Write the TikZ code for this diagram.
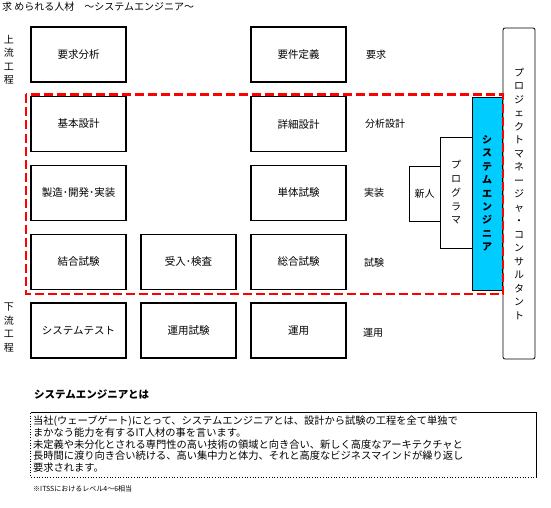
\documentclass[tikz,border=0pt]{standalone}
\usepackage{fontspec}
\newfontfamily\cjk{Noto Sans CJK JP}
\definecolor{secyan}{HTML}{00CCFF}
\begin{document}
\begin{tikzpicture}[x=1pt,y=-1pt,
  every node/.style={font=\cjk\fontsize{10}{12}\selectfont, inner sep=0pt},
  box/.style={draw, line width=1.4pt, minimum width=95pt, minimum height=55pt, font=\cjk\fontsize{10.5}{12}\selectfont},
  vbox/.style={draw, line width=0.8pt},
  vtext/.style={align=center, font=\cjk\fontsize{10}{13.5}\selectfont},
  lbl/.style={anchor=west},
  txt/.style={anchor=west, font=\cjk\fontsize{10.25}{12}\selectfont}]
\useasboundingbox (0,0) rectangle (551,508);

% title
\node[anchor=west] (title) at (2,7) {求 められる人材　～システムエンジニア～};

% left labels
\node[vtext] (joryu) at (9,60) {上\\流\\工\\程};
\node[vtext] (karyu) at (9,327.5) {下\\流\\工\\程};

% process boxes
\node[box] (yokyu) at (78.5,54.5) {要求分析};
\node[box] (kihon) at (78.5,124) {基本設計};
\node[box] (seizo) at (78.5,193) {製造･開発･実装};
\node[box] (ketsugo) at (78.5,262) {結合試験};
\node[box] (systest) at (78.5,330.5) {システムテスト};
\node[box] (ukeire) at (188.5,262) {受入･検査};
\node[box] (unyoshiken) at (188.5,330.5) {運用試験};
\node[box] (yoken) at (298.5,54.5) {要件定義};
\node[box] (shosai) at (298.5,124) {詳細設計};
\node[box] (tantai) at (298.5,193) {単体試験};
\node[box] (sogo) at (298.5,262) {総合試験};
\node[box] (unyo) at (298.5,330.5) {運用};

% right labels
\node[lbl] (l1) at (366,55) {要求};
\node[lbl] (l2) at (365,124) {分析設計};
\node[lbl] (l3) at (364,193) {実装};
\node[lbl] (l4) at (364,263) {試験};
\node[lbl] (l5) at (363,333) {運用};

% role boxes
\node[vbox, rounded corners=2pt, minimum width=32pt, minimum height=331pt] (pm) at (519,193.5) {};
\node[vtext] (pmt) at (519,193.5) {プ\\ロ\\ジ\\ェ\\ク\\ト\\マ\\ネ\\ー\\ジ\\ャ\\・\\コ\\ン\\サ\\ル\\タ\\ン\\ト};
\node[vbox, fill=secyan, minimum width=30pt, minimum height=193pt] (se) at (487,193.5) {};
\node[vtext, font=\cjk\bfseries\fontsize{10}{13.4}\selectfont] (set) at (487,193.5) {シ\\ス\\テ\\ム\\エ\\ン\\ジ\\ニ\\ア};
\node[vbox, minimum width=32pt, minimum height=111pt] (pg) at (456,192.5) {};
\node[vtext, font=\cjk\fontsize{10}{13.75}\selectfont] (pgt) at (456,192.5) {プ\\ロ\\グ\\ラ\\マ};
\node[vbox, minimum width=31pt, minimum height=55pt] (shinjin) at (424.5,193.5) {};
\node (shinjint) at (424.5,193.5) {新人};

% red dashed frame
\draw[red, line width=2.5pt, dash pattern=on 9pt off 4pt] (26,94.5) rectangle (503,294);

% explanation
\node[anchor=west, font=\cjk\bfseries\fontsize{10.5}{12}\selectfont] (head) at (34,395) {システムエンジニアとは};
\node[minimum width=505pt, minimum height=64pt] (tb) at (283.5,445) {};
\draw[line width=0.7pt] (tb.north west) -- (tb.north east) -- (tb.south east);
\draw[line width=0.7pt, dotted] (tb.north west) -- (tb.south west) -- (tb.south east);
\node[txt] (t1) at (33,421.5) {当社(ウェーブゲート)にとって、システムエンジニアとは、設計から試験の工程を全て単独で};
\node[txt] (t2) at (33,433) {まかなう能力を有するIT人材の事を言います。};
\node[txt] (t3) at (33,444.5) {未定義や未分化とされる専門性の高い技術の領域と向き合い、新しく高度なアーキテクチャと};
\node[txt] (t4) at (33,456) {長時間に渡り向き合い続ける、高い集中力と体力、それと高度なビジネスマインドが繰り返し};
\node[txt] (t5) at (33,467.5) {要求されます。};
\node[anchor=west, font=\cjk\fontsize{7}{8}\selectfont] (note) at (33,489) {※ITSSにおけるレベル4～6相当};
\end{tikzpicture}
\end{document}
